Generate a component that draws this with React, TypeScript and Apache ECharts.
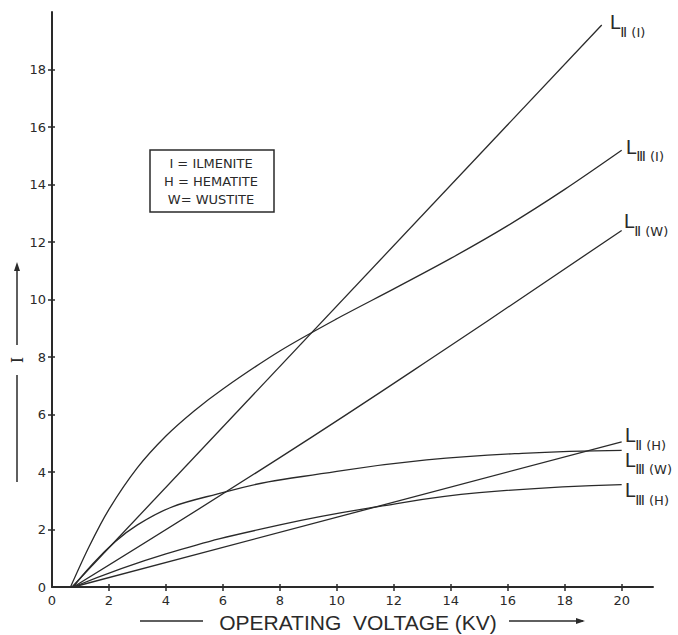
import React, { useEffect, useRef } from "react";
import * as echarts from "echarts";

// Operating voltage (kV) vs intensity I
const LII_I: number[][] = [[0.7, 0], [19.3, 19.55]];
const LIII_I: number[][] = [
  [0.65, 0], [1.3, 1.4], [2, 2.7], [3, 4.15], [4, 5.25], [5, 6.13], [6, 6.89], [8, 8.21],
  [10, 9.33], [12, 10.37], [14, 11.43], [16, 12.57], [18, 13.83], [20, 15.19],
];
const LII_W: number[][] = [[0.75, 0], [8, 4.5], [14, 8.4], [20, 12.4]];
const LIII_W: number[][] = [
  [0.75, 0], [3, 2.16], [6.13, 3.32], [10, 4.02], [13.15, 4.42], [16.5, 4.65], [20, 4.75],
];
const LII_H: number[][] = [[0.75, 0], [20, 5.05]];
const LIII_H: number[][] = [
  [0.75, 0], [4, 1.15], [8, 2.16], [11.6, 2.82], [15, 3.28], [20, 3.56],
];

const xLabelValues = [0, 2, 4, 6, 8, 10, 12, 14, 16, 18, 20];
const xTickValues = [2, 4, 6, 8, 10, 12, 14, 16, 18, 20];
const yLabelValues = [0, 2, 4, 6, 8, 10, 12, 14, 16, 18];
const yTickValues = [2, 4, 6, 8, 10, 12, 14, 16, 18];

const legendLines = ["I = ILMENITE", "H = HEMATITE", "W= WUSTITE"];

const INK = "#2a2a2a";
const FONT = "DejaVu Sans";

function richLabel(sub: string, mat: string) {
  return `{L|L}{s|${sub}}{p| (${mat})}`;
}

const rich = {
  L: { fontSize: 19, lineHeight: 26, verticalAlign: "top", color: INK, fontFamily: FONT },
  s: { fontSize: 14, lineHeight: 15, verticalAlign: "bottom", color: INK, fontFamily: FONT },
  p: { fontSize: 13, lineHeight: 15, verticalAlign: "bottom", color: INK, fontFamily: FONT },
};

function mkSeries(name: string, data: number[][], smooth: number | false, sub: string, mat: string, offset: number[]) {
  return {
    name,
    type: "line",
    data,
    smooth,
    showSymbol: false,
    symbol: "none",
    lineStyle: { color: INK, width: 1.3 },
    endLabel: {
      show: true,
      distance: 0,
      offset,
      formatter: () => richLabel(sub, mat),
      rich,
    },
    z: 3,
  };
}

export default function App() {
  const ref = useRef<HTMLDivElement>(null);
  useEffect(() => {
    if (!ref.current) return;
    const chart = echarts.init(ref.current, null, { renderer: "svg" });
    const axisLabelBase = { color: INK, fontSize: 13, fontFamily: FONT };
    chart.setOption({
      animation: false,
      backgroundColor: "#ffffff",
      grid: { left: 52, right: 25, top: 12, bottom: 48 },
      xAxis: [
        {
          type: "value",
          min: 0,
          max: 21.1,
          axisLine: { show: true, lineStyle: { color: INK, width: 2 } },
          axisTick: { show: true, length: 4, customValues: xTickValues, lineStyle: { color: INK, width: 1.5 } },
          axisLabel: { ...axisLabelBase, margin: 7, customValues: xLabelValues },
          splitLine: { show: false },
        },
        {
          type: "value",
          min: 0,
          max: 21.1,
          position: "bottom",
          axisLine: { show: false },
          axisTick: { show: true, inside: true, length: 3, customValues: xTickValues, lineStyle: { color: INK, width: 1.5 } },
          axisLabel: { show: false },
          splitLine: { show: false },
        },
      ],
      yAxis: [
        {
          type: "value",
          min: 0,
          max: 20,
          axisLine: { show: true, lineStyle: { color: INK, width: 2 } },
          axisTick: { show: true, length: 4, customValues: yTickValues, lineStyle: { color: INK, width: 1.5 } },
          axisLabel: { ...axisLabelBase, margin: 6, customValues: yLabelValues },
          splitLine: { show: false },
        },
        {
          type: "value",
          min: 0,
          max: 20,
          position: "left",
          axisLine: { show: false },
          axisTick: { show: true, inside: true, length: 3, customValues: yTickValues, lineStyle: { color: INK, width: 1.5 } },
          axisLabel: { show: false },
          splitLine: { show: false },
        },
      ],
      series: [
        mkSeries("LII(I)", LII_I, false, "Ⅱ", "I", [8, 1]),
        mkSeries("LIII(I)", LIII_I, 0.3, "Ⅲ", "I", [4, 0]),
        mkSeries("LII(W)", LII_W, 0.45, "Ⅱ", "W", [2, -6]),
        mkSeries("LII(H)", LII_H, false, "Ⅱ", "H", [3, -3]),
        mkSeries("LIII(W)", LIII_W, 0.45, "Ⅲ", "W", [3, 13]),
        mkSeries("LIII(H)", LIII_H, 0.45, "Ⅲ", "H", [3, 9]),
      ],
      graphic: [
        {
          type: "rect",
          shape: { x: 150, y: 150, width: 124, height: 62 },
          style: { fill: "#fff", stroke: INK, lineWidth: 1.5 },
          z: 10,
        },
        ...legendLines.map((t, i) => ({
          type: "text",
          x: 211,
          y: 163 + i * 18,
          style: {
            text: t,
            fill: INK,
            font: `13px "${FONT}"`,
            textAlign: "center",
            textVerticalAlign: "middle",
          },
          z: 11,
        })),
        // x-axis title with arrow
        {
          type: "text",
          x: 358,
          y: 622,
          style: {
            text: "OPERATING  VOLTAGE (KV)",
            fill: INK,
            font: `21px "Liberation Sans"`,
            textAlign: "center",
            textVerticalAlign: "middle",
          },
        },
        { type: "line", shape: { x1: 140, y1: 621, x2: 203, y2: 621 }, style: { stroke: INK, lineWidth: 1.5 } },
        { type: "line", shape: { x1: 509, y1: 621, x2: 583, y2: 621 }, style: { stroke: INK, lineWidth: 1.5 } },
        { type: "polygon", shape: { points: [[585, 621], [576, 618], [576, 624]] }, style: { fill: INK } },
        // y-axis title with arrow
        { type: "line", shape: { x1: 17, y1: 266, x2: 17, y2: 345 }, style: { stroke: INK, lineWidth: 1.5 } },
        { type: "polygon", shape: { points: [[17, 262], [14, 271], [20, 271]] }, style: { fill: INK } },
        {
          type: "text",
          x: 17,
          y: 360,
          rotation: Math.PI / 2,
          style: {
            text: "I",
            fill: INK,
            font: `16px "DejaVu Serif"`,
            textAlign: "center",
            textVerticalAlign: "middle",
          },
        },
        { type: "line", shape: { x1: 17, y1: 375, x2: 17, y2: 482 }, style: { stroke: INK, lineWidth: 1.5 } },
      ],
    });
    return () => chart.dispose();
  }, []);
  return (
    <div
      ref={ref}
      style={{ position: "fixed", left: 0, top: 0, width: 678, height: 635, background: "#fff" }}
    />
  );
}
